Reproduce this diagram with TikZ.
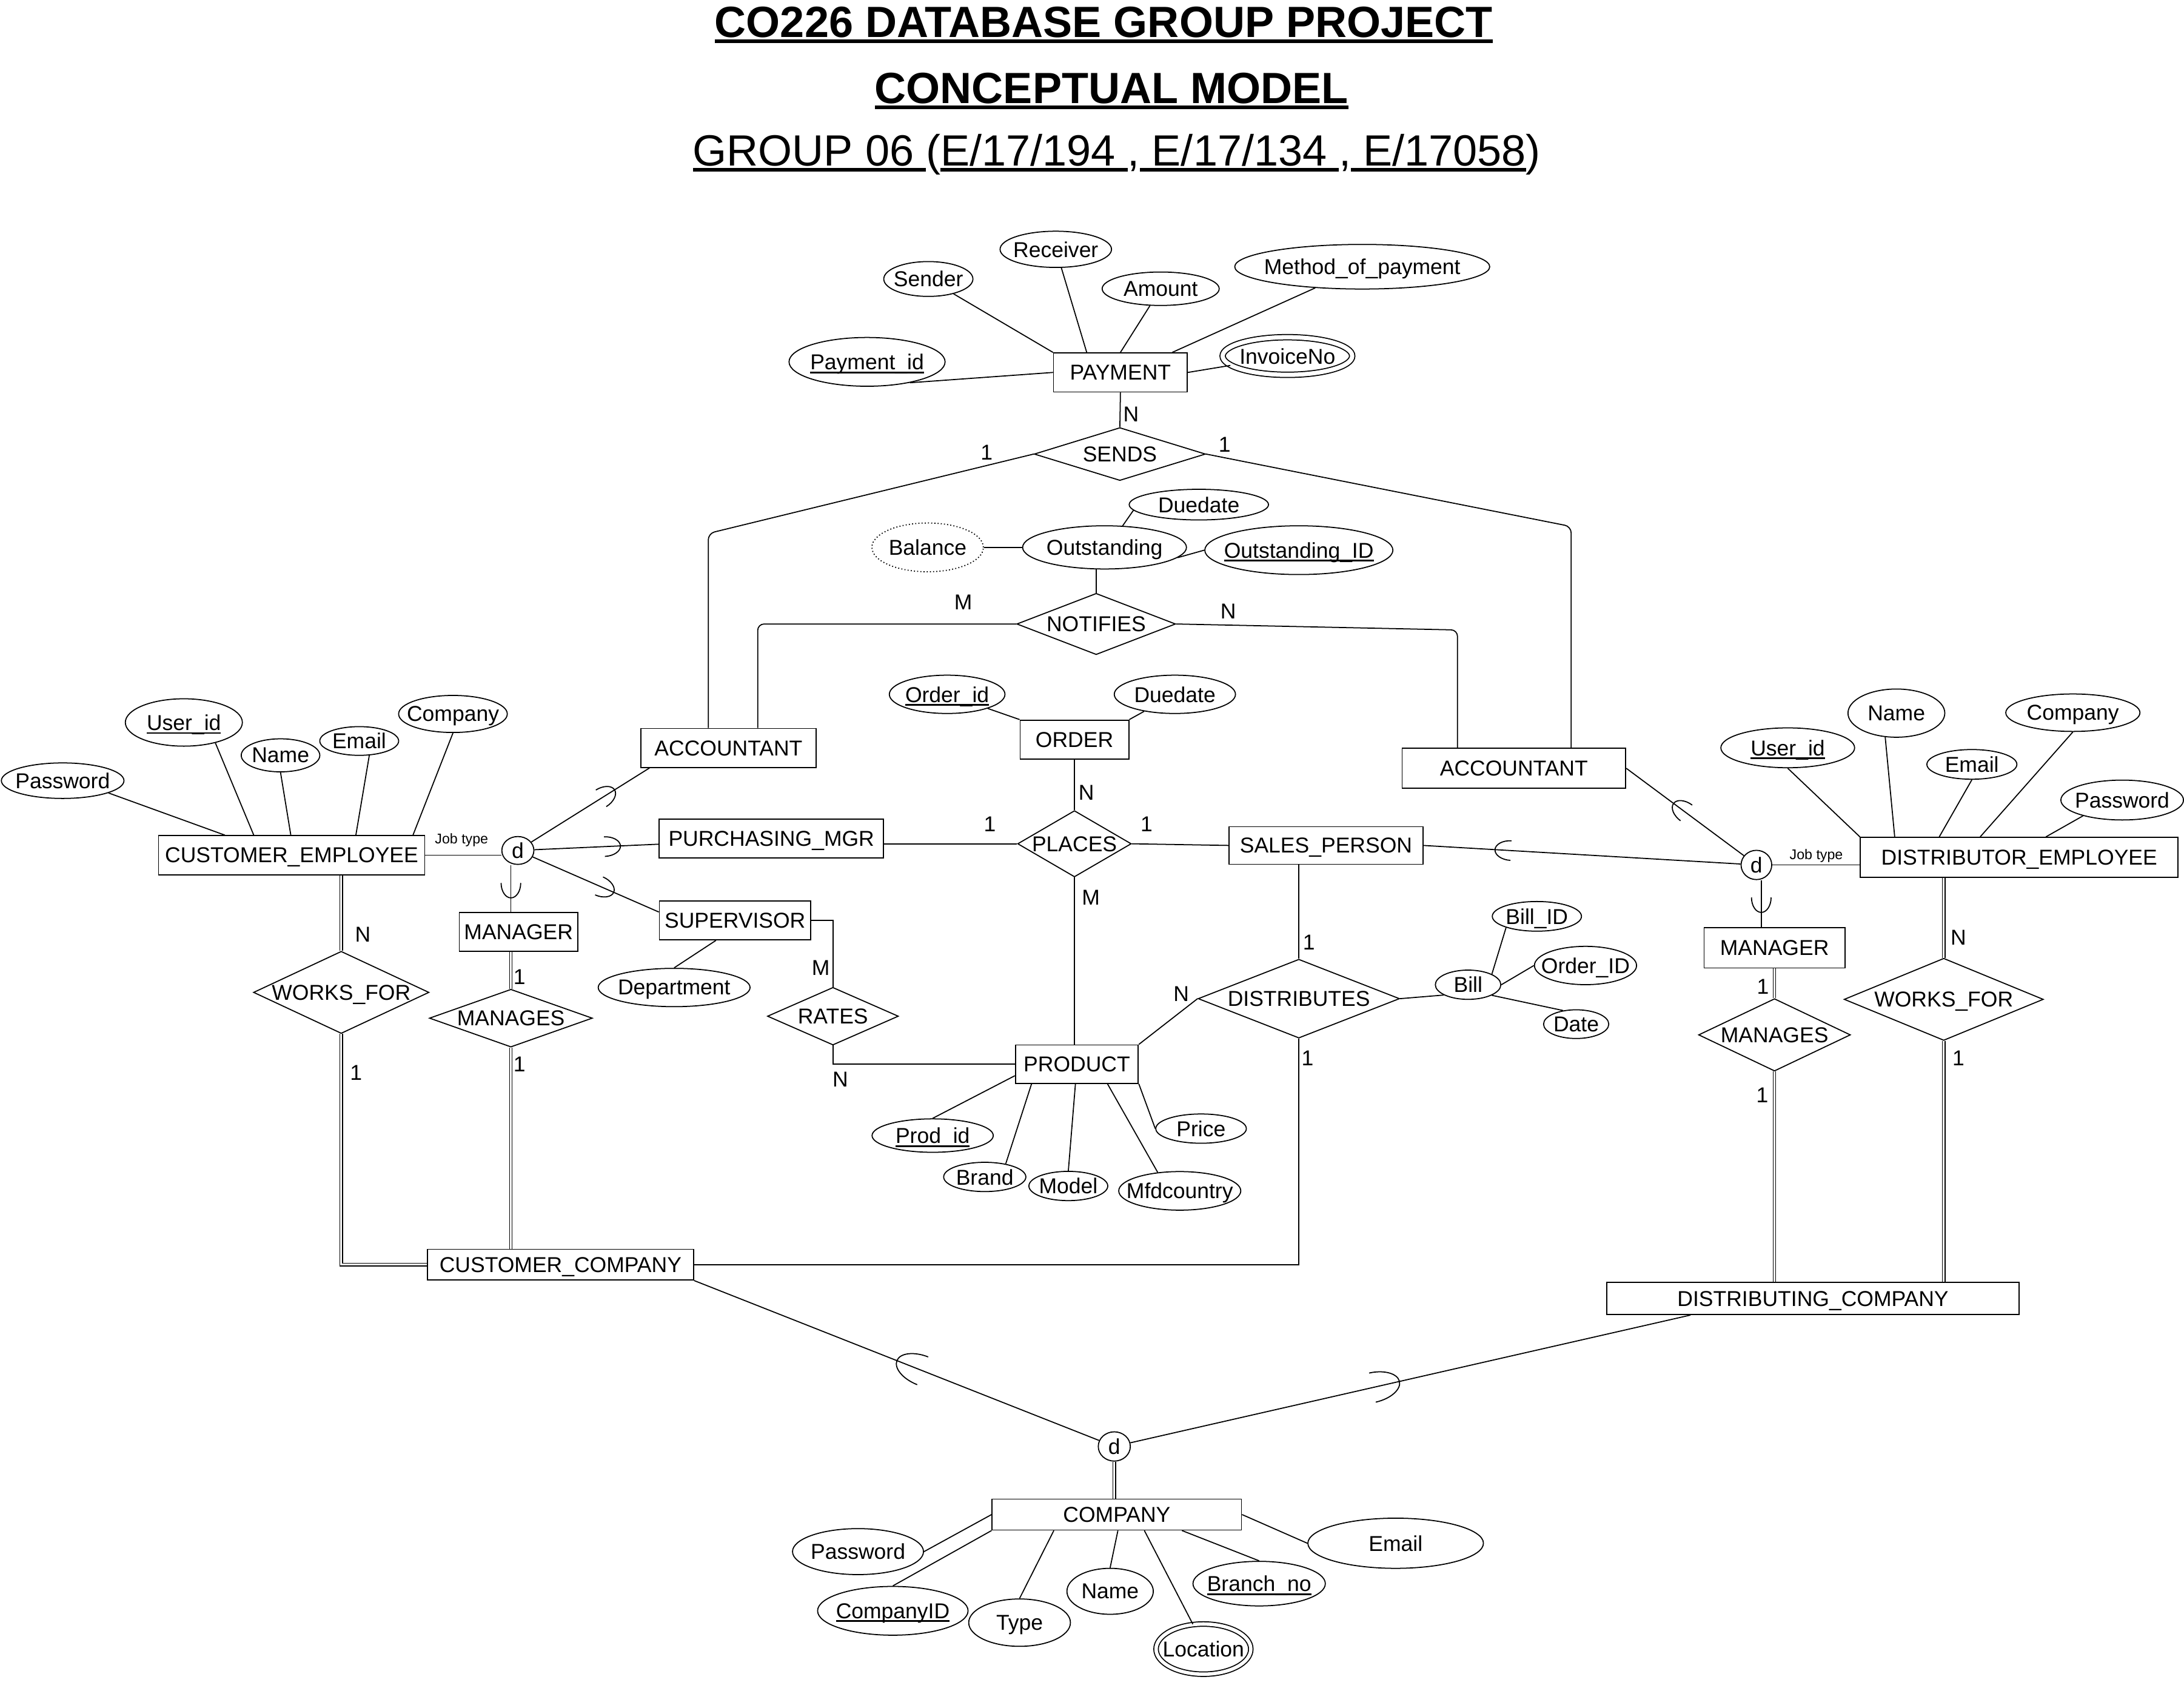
\documentclass[tikz,border=0pt]{standalone}
\usepackage{fontspec}
\setmainfont{Liberation Sans}
\usetikzlibrary{shapes.geometric,calc}
\newcommand\PXU{0.6536pt}
\newcommand\zb[1]{\makebox[0pt]{#1}}
\newcommand\thul[1]{\setbox0=\hbox{#1}\rlap{\vrule height -1pt depth 2.7pt width \wd0}\box0}
\newcommand\keyul[1]{\setbox0=\hbox{#1}\rlap{\vrule height -0.9pt depth 1.7pt width \wd0}\box0}
% subset arc: #1 superclass-side point, #2 subclass-side point, #3 fraction, #4 along radius, #5 perpendicular radius
\newcommand\subarc[5]{%
  \path #1 coordinate (sA) #2 coordinate (sB);
  \path ($(sA)!#3!(sB)$) coordinate (sP);
  \pgfmathanglebetweenpoints{\pgfpointanchor{sA}{center}}{\pgfpointanchor{sB}{center}}%
  \edef\subang{\pgfmathresult}%
  \draw[shift={(sP)}, rotate=\subang] (0pt,-#5) arc[start angle=-90, end angle=90, x radius=#4, y radius=#5];
}
\begin{document}
\begin{tikzpicture}[x=0.02297cm, y=-0.02297cm, line width=0.5pt,
  font=\fontsize{10.1}{12}\selectfont,
  wh/.style 2 args={minimum width=#1*\PXU, minimum height=#2*\PXU},
  ent/.style={draw, rectangle, inner sep=0pt, text depth=0pt},
  attr/.style={draw, ellipse, inner sep=0pt, text depth=0pt},
  rel/.style={draw, diamond, inner sep=0pt, aspect=1, text depth=0pt},
  dnode/.style={draw, ellipse, inner sep=0pt, text depth=0pt},
  card/.style={inner sep=0pt, text depth=0pt},
  small/.style={inner sep=0pt, font=\fontsize{6.6}{8}\selectfont},
  ttl/.style={inner sep=0pt, anchor=base},
  dbl/.style={double, double distance=0.8pt, line width=0.4pt}]
\fill[white] (0,0) rectangle (1568,1214);
\useasboundingbox (0,0) rectangle (1568,1214);

% ---------- titles ----------
\node[ttl, font=\fontsize{20.5}{24}\selectfont\bfseries] (t1) at (792.4,26.8) {\thul{CO226 DATABASE GROUP PROJECT}};
\node[ttl, font=\fontsize{20.5}{24}\selectfont\bfseries] (t2) at (798,74.3) {\thul{CONCEPTUAL MODEL}};
\node[ttl, font=\fontsize{20.5}{24}\selectfont] (t3) at (801.8,119) {\thul{GROUP 06 }(\thul{E/17/194 },\thul{ E/17/134 },\thul{ E/17058})};

% ---------- PAYMENT ----------
\node[ent, wh={96}{28}] (pay) at (804.4,267.4) {PAYMENT};
\node[attr, wh={112}{35}] (pid) at (622.5,259.8) {\zb{\keyul{Payment\_id}}};
\node[attr, wh={64}{25}] (sender) at (666.5,200.3) {\zb{Sender}};
\node[attr, wh={80}{26}] (receiver) at (758,179) {\zb{Receiver}};
\node[attr, wh={84}{24}] (amount) at (833.3,207.3) {\zb{Amount}};
\node[attr, wh={183}{32}] (method) at (978,191.5) {\zb{Method\_of\_payment}};
\node[attr, double, double distance=2pt, wh={93}{27}] (inv) at (924.3,255.6) {\zb{InvoiceNo}};
\draw (sender) -- (pay.north west);
\draw (receiver) -- ($(pay.north west)+(24.2,0)$);
\draw (amount) -- (pay.north);
\draw (method) -- ($(pay.north west)+(85.6,0)$);
\draw (pid.-26) -- (pay.west);
\draw (inv) -- (pay.east);

% ---------- SENDS ----------
\node[rel, wh={123}{38}] (sends) at (804,326) {\zb{SENDS}};
\draw (pay.south) -- (sends.north);
\node[card] (cN1) at (812,297.5) {N};
\node[card] (c11) at (708.4,325) {1};
\node[card] (c12) at (879.2,319.2) {1};

% ---------- ACCOUNTANTS ----------
\node[ent, wh={126}{28}] (accL) at (523,537) {ACCOUNTANT};
\node[ent, wh={160.5}{28.8}] (accR) at (1086.9,551.6) {ACCOUNTANT};
\coordinate (kS1) at (508.5,383);
\coordinate (kS2) at (1128,378);
\draw[rounded corners=3pt] (sends.west) -- (kS1) -- (kS1 |- accL.north);
\draw[rounded corners=3pt] (sends.east) -- (kS2) -- (kS2 |- accR.north);

% ---------- Outstanding / NOTIFIES ----------
\node[attr, wh={117.6}{31}] (outs) at (793,393) {\zb{Outstanding}};
\node[attr, wh={100}{22}] (due2) at (860.7,362.3) {\zb{Duedate}};
\node[attr, densely dotted, wh={80}{35}] (bal) at (666,393) {\zb{Balance}};
\node[attr, wh={135}{35}] (oid) at (932.5,395) {\zb{\keyul{Outstanding\_ID}}};
\draw (bal) -- (outs);
\draw (due2.185) -- (outs.50);
\draw (oid.west) -- (outs.-8);
\node[rel, wh={114}{44}] (notif) at (787,448) {\zb{NOTIFIES}};
\draw (notif.north) -- (notif.north |- outs.south);
\node[card] (cM1) at (691.6,432.5) {M};
\node[card] (cN2) at (881.8,438.8) {N};
\coordinate (kN1) at (544,448);
\coordinate (kN2) at (1046.4,452.3);
\draw[rounded corners=3pt] (notif.west) -- (kN1) -- (kN1 |- accL.north);
\draw[rounded corners=3pt] (notif.east) -- (kN2) -- (kN2 |- accR.north);

% ---------- ORDER / PLACES ----------
\node[ent, wh={78}{28}] (order) at (771.4,531) {ORDER};
\node[attr, wh={83}{27.5}] (ordid) at (680,498.5) {\zb{\keyul{Order\_id}}};
\node[attr, wh={87}{27.5}] (due1) at (843.5,498.5) {\zb{Duedate}};
\draw (ordid) -- (order.north west);
\draw (due1) -- (order.north east);
\node[rel, wh={81.6}{47.6}] (places) at (771.4,605.8) {\zb{PLACES}};
\draw (order.south) -- (places.north);
\node[card] (cN3) at (779.9,569) {N};
\node[card] (c13) at (710.6,591.7) {1};
\node[card] (c14) at (823.2,591.7) {1};
\node[card] (cM2) at (783.2,644.3) {M};
\node[ent, wh={161}{28}] (pmgr) at (553.8,602.1) {PURCHASING\_MGR};
\node[ent, wh={139}{27}] (sp) at (952,607) {SALES\_PERSON};
\draw (pmgr.east |- places.west) -- (places.west);
\draw (places.east) -- (sp.west);

% ---------- PRODUCT ----------
\node[ent, wh={88.2}{27.5}] (prod) at (773.1,764) {PRODUCT};
\draw (places.south) -- (places.south |- prod.north);
\node[attr, wh={87}{24}] (pid2) at (669.6,815.3) {\zb{\keyul{Prod\_id}}};
\node[attr, wh={59}{21}] (brand) at (707,845) {\zb{Brand}};
\node[attr, wh={56.6}{21}] (model) at (767,851.5) {\zb{Model}};
\node[attr, wh={87.6}{27.7}] (mfd) at (847,855) {\zb{Mfdcountry}};
\node[attr, wh={65}{21}] (price) at (862.3,810.3) {\zb{Price}};
\draw ($(prod.south west)+(0,-5.8)$) -- (pid2.north);
\draw ($(prod.south west)+(12,0)$) -- (brand.32);
\draw ($(prod.south west)+(43.5,0)$) -- (model.north);
\draw ($(prod.south west)+(66.5,0)$) -- (mfd.140);
\draw (prod.south east) -- (price.west);

% ---------- SUPERVISOR / RATES ----------
\node[ent, wh={108.6}{28}] (sup) at (527.7,660.8) {SUPERVISOR};
\node[rel, wh={94}{41.4}] (rates) at (598,729.6) {\zb{RATES}};
\draw (sup.east) -| (rates.north);
\draw (rates.south) |- (prod.west);
\node[card] (cM3) at (589.3,694.7) {M};
\node[card] (cN4) at (603.3,775) {N};
\node[attr, wh={109}{27.5}] (dept) at (484,709) {\zb{Department}};
\draw (dept.north) -- ($(sup.south west)+(41,0)$);

% ---------- DISTRIBUTES ----------
\node[rel, wh={144.6}{56.6}] (dist) at (932.5,717) {\zb{DISTRIBUTES}};
\draw (dist.north |- sp.south) -- (dist.north);
\draw (prod.north east) -- (dist.west);
\node[card] (c15) at (939.7,676.6) {1};
\node[card] (cN5) at (848.1,713.4) {N};
\node[card] (c16) at (938.7,759.9) {1};
\node[attr, wh={47}{21}] (bill) at (1054,707) {\zb{Bill}};
\node[attr, wh={64}{21.3}] (billid) at (1103.4,657.9) {\zb{Bill\_ID}};
\node[attr, wh={73.3}{27.5}] (ordid2) at (1138.3,693.2) {\zb{Order\_ID}};
\node[attr, wh={46.8}{20.6}] (date) at (1131.6,735.3) {\zb{Date}};
\draw (dist.east) -- (bill.203);
\draw (bill.24) -- (billid.200);
\draw (bill.east) -- (ordid2.west);
\draw (bill.-24) -- (date.134);

% ---------- CUSTOMER side ----------
\node[ent, wh={191}{22}] (cc) at (402.4,908) {CUSTOMER\_COMPANY};
\draw (dist.south) |- (cc.east);
\node[ent, wh={191}{28}] (ce) at (209.4,614) {CUSTOMER\_EMPLOYEE};
\node[attr, wh={88}{25.5}] (pwL) at (45,560.5) {\zb{Password}};
\node[attr, wh={84}{34}] (uidL) at (132,518.7) {\zb{\keyul{User\_id}}};
\node[attr, wh={56.4}{23.7}] (nameL) at (201.4,542.3) {\zb{Name}};
\node[attr, wh={56.6}{20.6}] (emailL) at (257.9,532) {\zb{Email}};
\node[attr, wh={78}{26.6}] (compL) at (325.2,512.6) {\zb{Company}};
\draw (pwL.-15) -- ($(ce.north west)+(48,0)$);
\draw (uidL.-33) -- ($(ce.north west)+(68.7,0)$);
\draw (nameL.south) -- ($(ce.north west)+(95.3,0)$);
\draw (emailL.-55) -- ($(ce.north west)+(142,0)$);
\draw (compL.south) -- ($(ce.north west)+(183,0)$);

\node[dnode, wh={23}{20}] (dL) at (371.8,610.6) {d};
\node[small] (jtL) at (331.4,603.3) {Job type};
\draw (ce.east) -- (ce.east -| dL.west);
\draw (dL) -- ($(accL.south west)+(6.7,0)$);
\draw (dL) -- ($(pmgr.west)+(0,4)$);
\draw (dL) -- ($(sup.west)+(0,-6)$);
\node[ent, wh={85}{28}] (mgrL) at (372.3,669) {MANAGER};
\coordinate (mLt) at ($(mgrL.north)+(-5.5,0)$);
\draw (dL.south -| mLt) -- (mLt);

\node[rel, wh={117}{41.5}] (manL) at (366.8,731) {\zb{MANAGES}};
\draw[dbl] (manL.north |- mgrL.south) -- (manL.north);
\draw[dbl] (manL.south) -- (manL.south |- cc.north);
\node[card] (c17) at (373,701.5) {1};
\node[card] (c18) at (373,764.3) {1};

\node[rel, wh={126}{59}] (wfL) at (245,712.5) {\zb{WORKS\_FOR}};
\draw[dbl] (wfL.north |- ce.south) -- (wfL.north);
\draw[dbl] (wfL.south) |- (cc.west);
\node[card] (cN6) at (260.5,671) {N};
\node[card] (c19) at (255.6,770) {1};

% ---------- DISTRIBUTOR side ----------
\node[ent, wh={228}{28.6}] (de) at (1449.7,615.5) {DISTRIBUTOR\_EMPLOYEE};
\node[attr, wh={96}{28.6}] (uidR) at (1283.5,536.9) {\zb{\keyul{User\_id}}};
\node[attr, wh={69.5}{34.6}] (nameR) at (1361.5,512) {\zb{Name}};
\node[attr, wh={64.6}{21.3}] (emailR) at (1415.7,548.8) {\zb{Email}};
\node[attr, wh={96.3}{26.9}] (compR) at (1488.2,511.7) {\zb{Company}};
\node[attr, wh={88}{28.6}] (pwR) at (1523.6,574.4) {\zb{Password}};
\draw (uidR.south) -- (de.north west);
\draw (nameR.-115) -- ($(de.north west)+(25,0)$);
\draw (emailR.south) -- ($(de.north west)+(57,0)$);
\draw (compR.south) -- ($(de.north west)+(86.4,0)$);
\draw (pwR.-158) -- ($(de.north west)+(133.6,0)$);

\node[dnode, wh={22}{21}] (dR) at (1261,621) {d};
\node[small] (jtR) at (1304,614.5) {Job type};
\draw (dR.east) -- (dR.east -| de.west);
\draw (sp.east) -- (dR);
\draw (accR.east) -- (dR);
\node[ent, wh={101}{29}] (mgrR) at (1274,680.5) {MANAGER};
\coordinate (mRt) at ($(mgrR.north)+(-9.5,0)$);
\draw (dR.south -| mRt) -- (mRt);

\node[rel, wh={109}{52}] (manR) at (1274,743) {\zb{MANAGES}};
\node[rel, wh={143}{59}] (wfR) at (1395.5,717.5) {\zb{WORKS\_FOR}};
\node[ent, wh={296}{23}] (dc) at (1301.6,932.3) {DISTRIBUTING\_COMPANY};
\draw[dbl] (manR.north |- mgrR.south) -- (manR.north);
\draw[dbl] (manR.south) -- (manR.south |- dc.north);
\draw[dbl] (wfR.north |- de.south) -- (wfR.north);
\draw[dbl] (wfR.south) -- (wfR.south |- dc.north);
\node[card] (c20) at (1265.7,708.2) {1};
\node[card] (c21) at (1265.2,786.4) {1};
\node[card] (cN7) at (1406,673) {N};
\node[card] (c22) at (1406,759.9) {1};

% ---------- COMPANY ----------
\node[dnode, wh={23}{21}] (dB) at (800,1038.5) {d};
\node[ent, wh={179}{22.2}] (comp) at (801.8,1087.4) {COMPANY};
\draw (cc.south east) -- (dB);
\draw ($(dc.south west)+(60.5,0)$) -- (dB);
\draw[dbl] (dB.south) -- (dB.south |- comp.north);

\node[attr, wh={94}{33}] (cpw) at (616,1114) {\zb{Password}};
\node[attr, wh={108}{35}] (cid) at (641,1156.5) {\zb{\keyul{CompanyID}}};
\node[attr, wh={73}{34}] (ctype) at (732,1165) {\zb{Type}};
\node[attr, wh={62}{33}] (cname) at (797,1142.5) {\zb{Name}};
\node[attr, double, double distance=1.6pt, wh={68}{36}] (loc) at (864,1184) {\zb{Location}};
\node[attr, wh={95}{32}] (branch) at (904,1137) {\zb{\keyul{Branch\_no}}};
\node[attr, wh={126}{36}] (cem) at (1002,1108) {\zb{Email}};
\draw (cpw.east) -- (comp.west);
\draw (cid.north) -- (comp.south west);
\draw (ctype.north) -- ($(comp.south west)+(44.7,0)$);
\draw (cname.north) -- ($(comp.south west)+(90.7,0)$);
\draw (loc.113) -- ($(comp.south west)+(109.7,0)$);
\draw (branch.north) -- ($(comp.south west)+(136.7,0)$);
\draw (cem.west) -- (comp.east);

% ---------- subset symbols ----------
\subarc{(dL.center)}{($(accL.south west)+(6.7,0)$)}{0.632}{7.5pt}{4.6pt}
\subarc{(dL.center)}{($(pmgr.west)+(0,4)$)}{0.615}{7.5pt}{4.6pt}
\subarc{(dL.center)}{($(sup.west)+(0,-6)$)}{0.576}{7.5pt}{4.6pt}
\subarc{(dL.south -| mLt)}{(mLt)}{0.385}{7pt}{4.6pt}
\subarc{(dR.center)}{(sp.east)}{0.737}{7.5pt}{4.6pt}
\subarc{(dR.center)}{(accR.east)}{0.538}{7.5pt}{4.6pt}
\subarc{(dR.south -| mRt)}{(mRt)}{0.37}{7pt}{4.6pt}
\subarc{(dB.center)}{(cc.south east)}{0.456}{13pt}{7pt}
\subarc{(dB.center)}{($(dc.south west)+(60.5,0)$)}{0.448}{13pt}{7pt}
\end{tikzpicture}
\end{document}
